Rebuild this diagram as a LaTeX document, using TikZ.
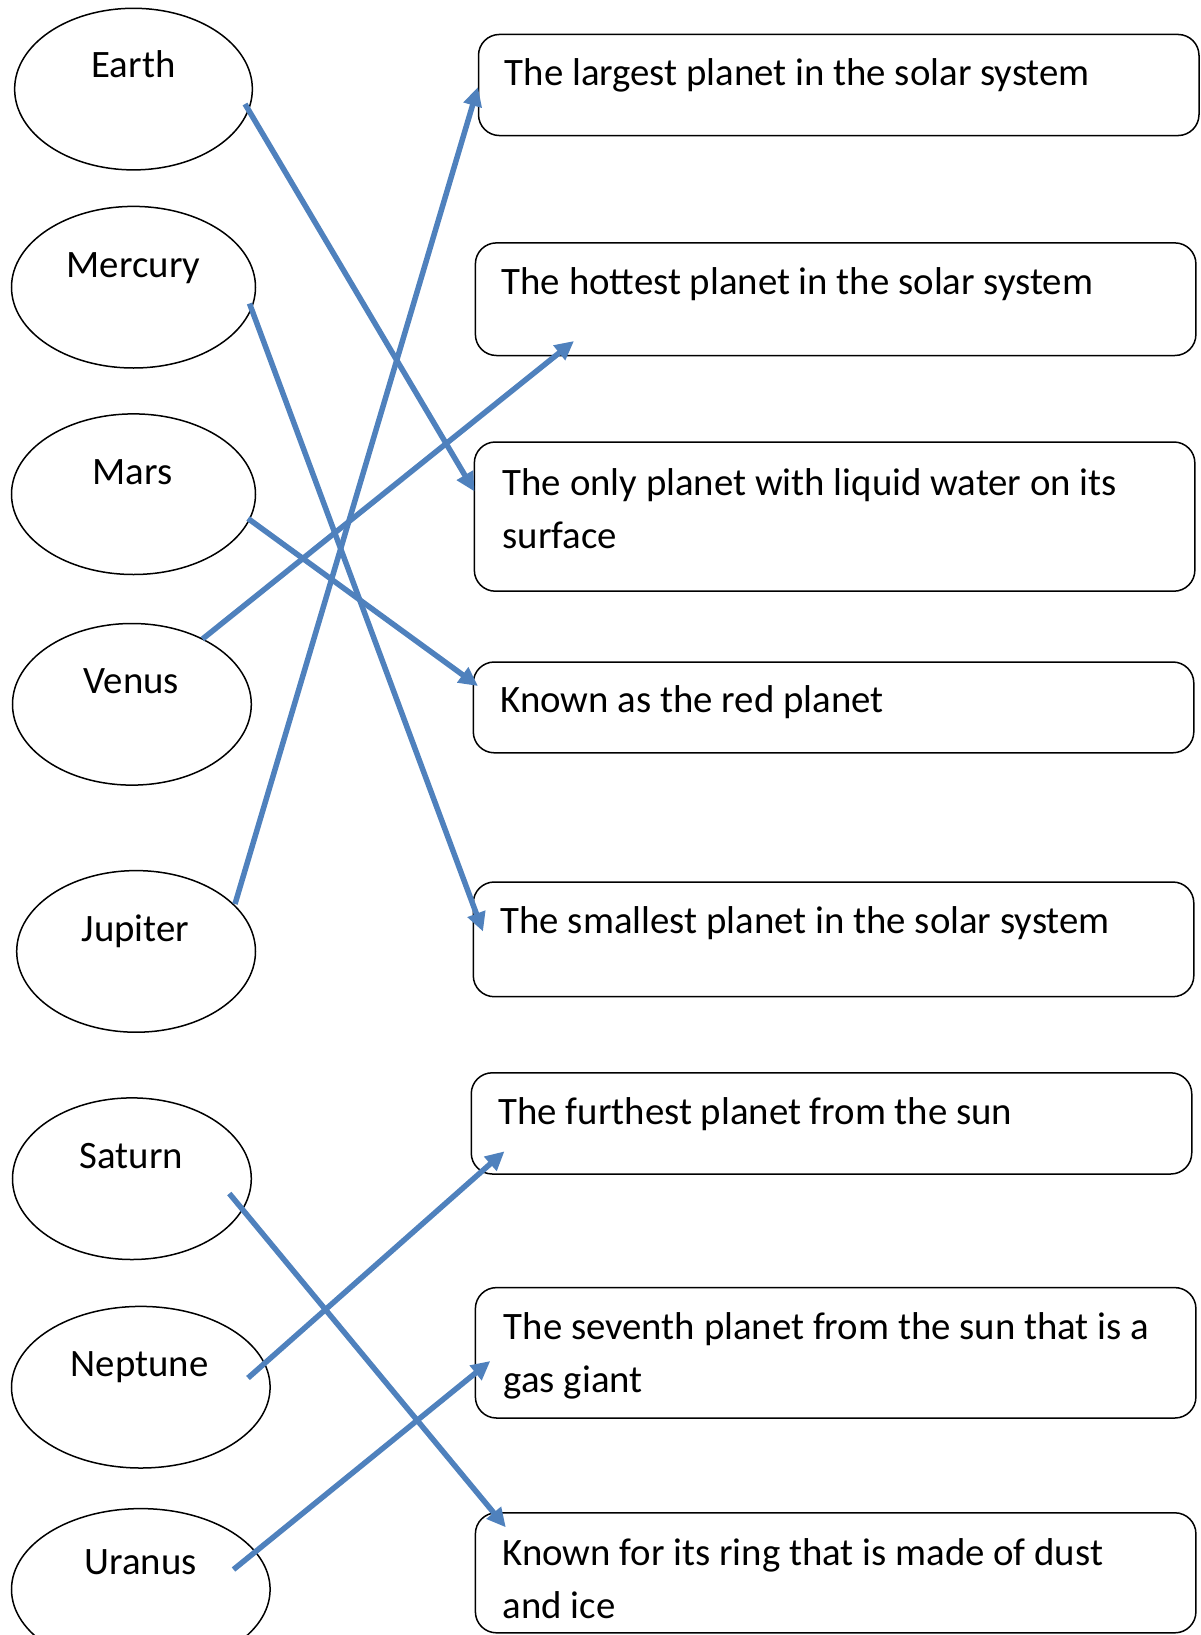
\documentclass[tikz,border=0pt]{standalone}
\usepackage{fontspec}
\setmainfont{Carlito}
\usetikzlibrary{shapes.geometric,arrows.meta}
\definecolor{arrowblue}{HTML}{4F81BD}
\begin{document}
\begin{tikzpicture}[x=1pt,y=-1pt,
  planet/.style={draw, ellipse, line width=1.5pt, inner sep=0pt},
  ptext/.style={font=\fontsize{38.8}{53}\selectfont, inner sep=0pt, anchor=base},
  fact/.style={draw, rectangle, rounded corners=21pt, line width=1.5pt, minimum width=720.5pt, inner sep=0pt},
  ftext/.style={font=\fontsize{38.8}{53}\selectfont, inner sep=0pt, anchor=base west, align=left},
  link/.style={draw=arrowblue, line width=5.5pt, -{Triangle[length=19pt,width=18pt]}}
]
\useasboundingbox (0,0) rectangle (1200,1635);

% planets
\node[planet, minimum width=237.7pt, minimum height=161.6pt] (earth)   at (133.5,89.1) {};
\node[planet, minimum width=244pt,   minimum height=161.6pt] (mercury) at (133.5,287.2) {};
\node[planet, minimum width=244pt,   minimum height=160.6pt] (mars)    at (133.5,494.2) {};
\node[planet, minimum width=238.8pt, minimum height=161.6pt] (venus)   at (131.9,704.3) {};
\node[planet, minimum width=238.8pt, minimum height=161.6pt] (jupiter) at (136.1,951.4) {};
\node[planet, minimum width=238.8pt, minimum height=161.6pt] (saturn)  at (131.9,1178.7) {};
\node[planet, minimum width=258.6pt, minimum height=161.6pt] (neptune) at (140.8,1387.2) {};
\node[planet, minimum width=258.6pt, minimum height=161.6pt] (uranus)  at (140.8,1589.4) {};

\node[ptext] (earthT)   at (133.5,77.7) {Earth};
\node[ptext] (mercuryT) at (133.5,277) {Mercury};
\node[ptext] (marsT)    at (132.4,484.3) {Mars};
\node[ptext] (venusT)   at (131.4,693.9) {Venus};
\node[ptext] (jupiterT) at (135.5,941) {Jupiter};
\node[ptext] (saturnT)  at (131.4,1168.2) {Saturn};
\node[ptext] (neptuneT) at (139.7,1376.7) {Neptune};
\node[ptext] (uranusT)  at (140.8,1574.6) {Uranus};

% fact boxes
\node[fact, minimum height=101.1pt] (f1) at (838.75,85) {};
\node[fact, minimum height=112.6pt] (f2) at (835.65,299.2) {};
\node[fact, minimum height=149.2pt] (f3) at (834.6,516.6) {};
\node[fact, minimum height=90.8pt]  (f4) at (833.55,707.4) {};
\node[fact, minimum height=114.7pt] (f5) at (833.55,939.35) {};
\node[fact, minimum height=101.2pt] (f6) at (831.5,1123.4) {};
\node[fact, minimum height=130.4pt] (f7) at (835.65,1352.8) {};
\node[fact, minimum height=120pt]   (f8) at (835.65,1572.8) {};

% (base anchor of two-line texts is the baseline of the last line)
\node[ftext] (f1T) at (504.6,86) {The largest planet in the solar system};
\node[ftext] (f2T) at (501.5,294) {The hottest planet in the solar system};
\node[ftext] (f3T) at (502.5,548) {The only planet with liquid water on its\\surface};
\node[ftext] (f4T) at (500.4,712.6) {Known as the red planet};
\node[ftext] (f5T) at (500.4,933.7) {The smallest planet in the solar system};
\node[ftext] (f6T) at (498.4,1124.5) {The furthest planet from the sun};
\node[ftext] (f7T) at (503.6,1392) {The seventh planet from the sun that is a\\gas giant};
\node[ftext] (f8T) at (502.5,1618) {Known for its ring that is made of dust\\and ice};

% connector ends
\coordinate (earthS)   at (245,104);
\coordinate (mercuryS) at (249.5,303.5);
\coordinate (marsS)    at (248,518.5);
\coordinate (venusS)   at (202.5,639);
\coordinate (jupiterS) at (235,904);
\coordinate (saturnS)  at (229.3,1193.5);
\coordinate (neptuneS) at (248,1378);
\coordinate (uranusS)  at (233.5,1569.5);

\coordinate (f1E) at (478,87);
\coordinate (f2E) at (574,341);
\coordinate (f3E) at (474.5,491.5);
\coordinate (f4E) at (478,686);
\coordinate (f5E) at (483,931.5);
\coordinate (f6E) at (504.5,1151.3);
\coordinate (f7E) at (490.3,1361);
\coordinate (f8E) at (505.8,1527.3);

\draw[link] (earthS) -- (f3E);
\draw[link] (mercuryS) -- (f5E);
\draw[link] (marsS) -- (f4E);
\draw[link] (venusS) -- (f2E);
\draw[link] (jupiterS) -- (f1E);
\draw[link] (saturnS) -- (f8E);
\draw[link] (neptuneS) -- (f6E);
\draw[link] (uranusS) -- (f7E);
\end{tikzpicture}
\end{document}
